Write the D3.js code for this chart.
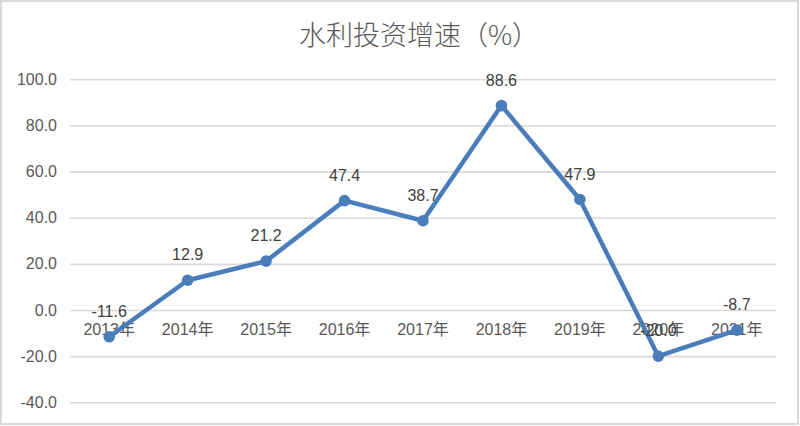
<!DOCTYPE html>
<html><head><meta charset="utf-8">
<script src="https://cdn.jsdelivr.net/npm/d3@7"></script>
<style>html,body{margin:0;padding:0;background:#fff;}svg{display:block;}</style>
</head><body>
<svg id="chart" width="800" height="426"></svg>
<script>
const title = "水利投资增速（%）";
const categories = ["2013年","2014年","2015年","2016年","2017年","2018年","2019年","2020年","2021年"];
const values = [-11.6, 12.9, 21.2, 47.4, 38.7, 88.6, 47.9, -20.0, -8.7];
const yTicks = [-40, -20, 0, 20, 40, 60, 80, 100];

(function(){
const svg = d3.select("#chart");
const W = 800, H = 426;
const mLeft = 70, mRight = 776, mTop = 79.3, mBottom = 402.3;
const font = "'Liberation Sans', Arial, 'Noto Sans CJK SC', sans-serif";
const fmt = d3.formatLocale({decimal:".", thousands:",", grouping:[3], currency:["",""], minus:"-"}).format(".1f");

svg.append("rect").attr("x",1).attr("y",1).attr("width",W-3).attr("height",H-3)
  .attr("fill","#fff").attr("stroke","#d9d9d9").attr("stroke-width",2);

const x = d3.scaleBand().domain(categories).range([mLeft, mRight]);
const y = d3.scaleLinear().domain([-40, 100]).range([mBottom, mTop]);

const yAxis = d3.axisLeft(y).tickValues(yTicks).tickSize(-(mRight-mLeft)).tickPadding(13)
  .tickFormat(fmt);
const gy = svg.append("g").attr("transform",`translate(${mLeft},0)`).call(yAxis);
gy.select(".domain").remove();
gy.selectAll(".tick line").attr("stroke","#d9d9d9").attr("stroke-width",1.6);
gy.selectAll(".tick text").attr("fill","#595959").style("font-family",font).style("font-size","16px");

const xAxis = d3.axisBottom(x).tickSize(0).tickPadding(14);
const gx = svg.append("g").attr("transform",`translate(0,${y(0)})`).call(xAxis);
gx.select(".domain").remove();
gx.selectAll(".tick text").attr("fill","#595959").style("font-family",font).style("font-size","16px");

const cx = d => x(d) + x.bandwidth()/2;
const line = d3.line().x((d,i)=>cx(categories[i])).y(d=>y(d));
svg.append("path").datum(values).attr("d", line).attr("fill","none")
  .attr("stroke","#4a7ebb").attr("stroke-width",4.5).attr("stroke-linejoin","round");

svg.selectAll("circle.pt").data(values).enter().append("circle")
  .attr("cx",(d,i)=>cx(categories[i])).attr("cy",d=>y(d)).attr("r",5.8)
  .attr("fill","#4a7ebb");

svg.selectAll("text.lbl").data(values).enter().append("text")
  .attr("x",(d,i)=>cx(categories[i])).attr("y",d=>y(d)-20)
  .attr("text-anchor","middle").attr("fill","#404040")
  .style("font-family",font).style("font-size","16px")
  .text(d=>fmt(d));

svg.append("text").attr("x",419).attr("y",45).attr("text-anchor","middle")
  .attr("fill","#595959").style("font-family","'Noto Sans CJK SC', sans-serif")
  .style("font-weight","300")
  .style("font-size","27px").text(title);
})();
</script>
</body></html>
